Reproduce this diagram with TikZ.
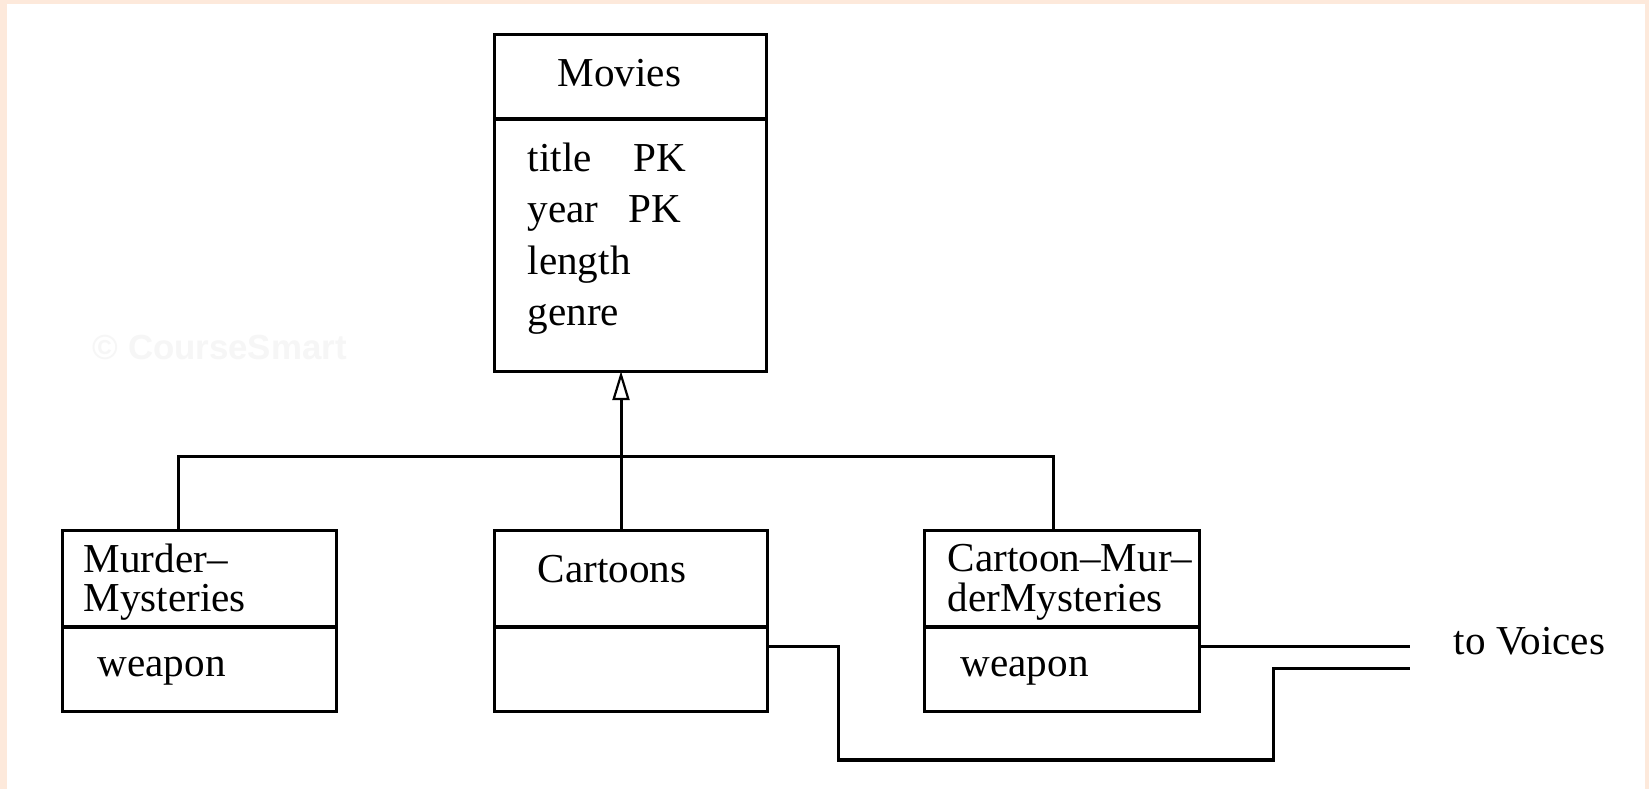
\documentclass[tikz,border=0pt]{standalone}
\usepackage{fontspec}
\setmainfont{Liberation Serif}
\newfontfamily\markfont{Liberation Sans}
\usetikzlibrary{arrows.meta}
\definecolor{pagetint}{RGB}{253,233,219}
\definecolor{markgray}{RGB}{246,246,246}

\begin{document}
\begin{tikzpicture}[x=0.01cm,y=-0.01cm,
  box/.style={draw, line width=0.03cm, inner sep=0pt, outer sep=0pt, anchor=north west},
  txt/.style={inner sep=0pt, anchor=base west, font=\fontsize{11.7pt}{14pt}\selectfont},
  conn/.style={line width=0.03cm},
  isa/.style={line width=0.03cm, -{Triangle[open, length=0.29cm, width=0.17cm, line width=0.022cm]}}
]
% page frame
\useasboundingbox (0,0) rectangle (1649,789);
\fill[pagetint] (0,0) rectangle (1649,789);
\fill[white] (7,4) rectangle (1645,789);

% watermark
\node[inner sep=0pt, anchor=base west, text=markgray, font=\markfont\bfseries\fontsize{9.9pt}{12pt}\selectfont] (mark) at (92,360) {© CourseSmart};

% Movies
\node[box, minimum width=2.72cm, minimum height=0.84cm] (movH) at (494,35) {};
\node[box, minimum width=2.72cm, minimum height=2.52cm] (movB) at (494,119) {};
\node[txt] (movT) at (557,87) {Movies};
\node[txt] (a1) at (527,172) {title};
\node[txt] (k1) at (633,172) {PK};
\node[txt] (a2) at (527,223) {year};
\node[txt] (k2) at (628,223) {PK};
\node[txt] (a3) at (527,275) {length};
\node[txt] (a4) at (527,326) {genre};

% Murder-Mysteries
\node[box, minimum width=2.74cm, minimum height=0.96cm] (mmH) at (62,531) {};
\node[box, minimum width=2.74cm, minimum height=0.84cm] (mmB) at (62,627) {};
\node[txt] (mmT1) at (83,573) {Murder–};
\node[txt] (mmT2) at (83,612) {Mysteries};
\node[txt] (mmA) at (97,677) {weapon};

% Cartoons
\node[box, minimum width=2.73cm, minimum height=0.96cm] (cartH) at (494,531) {};
\node[box, minimum width=2.73cm, minimum height=0.84cm] (cartB) at (494,627) {};
\node[txt] (cartT) at (537,583) {Cartoons};

% Cartoon-MurderMysteries
\node[box, minimum width=2.75cm, minimum height=0.96cm] (cmmH) at (924,531) {};
\node[box, minimum width=2.75cm, minimum height=0.84cm] (cmmB) at (924,627) {};
\node[txt] (cmmT1) at (947,572) {Cartoon–Mur–};
\node[txt] (cmmT2) at (947,612) {derMysteries};
\node[txt] (cmmA) at (960,677) {weapon};

% relationship label
\node[txt] (voices) at (1453,655) {to Voices};

% isa hierarchy
\coordinate (bar) at (621,457);
\draw[conn] (mmH.north -| 178,0) |- (bar) -| (cmmH.north -| 1053,0);
\draw[isa] (bar |- cartH.north) -- (bar |- movB.south);

% lines to Voices
\coordinate (vA) at (1410,647);
\coordinate (vB) at (1410,669);
\draw[conn] (cmmB.east |- vA) -- (vA);
\draw[conn] (cartB.east |- vA) -- (838,647) -- (838,760) -- (1273,760) -- (1273,669) -- (vB);
\end{tikzpicture}
\end{document}
